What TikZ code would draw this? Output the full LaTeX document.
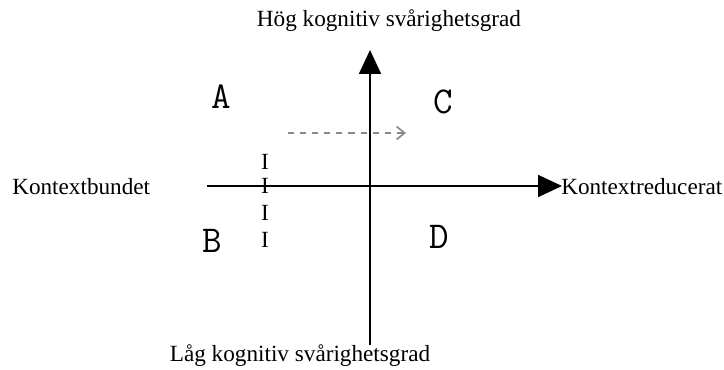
\documentclass[tikz,border=0pt]{standalone}
\usepackage{fontspec}
\setmainfont{Liberation Serif}
\usepackage{xcolor}
\usepackage{tikz}
\usetikzlibrary{arrows.meta}
\definecolor{dashgray}{HTML}{8A8A8A}
\tikzset{axis/.style={line width=1.3pt,black,-{Triangle[width=5.5mm,length=6mm]}},
  lbl/.style={inner sep=0pt,font=\fontsize{16.5}{20}\selectfont},
  quad/.style={inner sep=0pt,font=\ttfamily\fontsize{27}{32}\selectfont}}

\begin{document}
\begin{tikzpicture}
\useasboundingbox (0,0) rectangle (18.1,9.25);
\coordinate (O) at (9.25,4.6); \coordinate (T) at (9.25,8.0); \coordinate (Bt) at (9.25,0.625);
\coordinate (L) at (5.175,4.6); \coordinate (R) at (14.05,4.6);
\draw[axis] (Bt)--(T);
\draw[axis] (L)--(R);
\coordinate (S) at (7.2,5.925); \coordinate (E) at (10.15,5.925);
\draw[dashgray,line width=1.2pt,dash pattern=on 4.3pt off 4.3pt,-{Straight Barb[length=2mm,width=3.2mm]}] (S)--(E);
\node[lbl] (hog) at (9.725,8.725) {Hög kognitiv svårighetsgrad};
\node[lbl] (lag) at (7.5,0.35) {Låg kognitiv svårighetsgrad};
\node[lbl,anchor=west] (kb) at (0.3,4.575) {Kontextbundet};
\node[lbl,anchor=west] (kr) at (14.025,4.575) {Kontextreducerat};
\node[quad] (A) at (5.525,6.825) {A}; \node[quad] (C) at (11.075,6.7) {C};
\node[quad] (B) at (5.3,3.225) {B}; \node[quad] (D) at (10.975,3.325) {D};
\node[lbl] (i1) at (6.625,5.2) {I}; \node[lbl] (i2) at (6.625,4.6) {I};
\node[lbl] (i3) at (6.625,3.925) {I}; \node[lbl] (i4) at (6.625,3.25) {I};
\end{tikzpicture}
\end{document}
